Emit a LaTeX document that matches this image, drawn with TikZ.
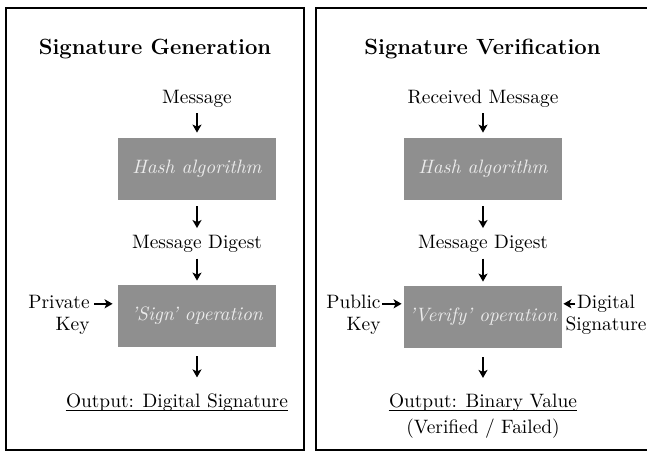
\documentclass[tikz,border=0pt]{standalone}
\usetikzlibrary{arrows.meta}

\tikzset{
  panel/.style={draw, line width=1pt},
  title/.style={anchor=base, inner sep=0pt, font=\fontsize{11}{13}\selectfont\bfseries},
  lbl/.style={inner sep=0pt, font=\fontsize{9.7}{11}\selectfont},
  opbox/.style={fill=black!44, text=white!92!black, inner sep=0pt,
                minimum width=79pt, minimum height=31pt,
                font=\fontsize{9.7}{11}\selectfont\itshape},
  flow/.style={line width=1pt, shorten <=3pt, shorten >=2.5pt,
               -{Stealth[length=4pt, width=4.5pt, inset=1pt]}},
  uline/.style={line width=0.45pt},
}

\begin{document}
\begin{tikzpicture}[x=0.5pt, y=-0.5pt]
\useasboundingbox (0,0) rectangle (647,452);

% the two frames
\draw [panel] (6.3,7.7) rectangle (304.3,450);
\draw [panel] (316.3,7.7) rectangle (651,450);

% generation side
\node (gentitle) at (155,54.5) [title] {Signature Generation};
\node (msg) at (197,103) [lbl, anchor=base] {Message};
\node (hash) at (197,169) [opbox] {Hash algorithm};
\node (dig) at (197,248.7) [lbl, anchor=base] {Message Digest};
\node (sign) at (197,316) [opbox] {'Sign' operation};
\node (privkey) at (90,314.4) [lbl, anchor=east, align=right] {Private\\Key};
\node (sigout) at (177,407.5) [lbl, anchor=base] {Output: Digital Signature};
\draw [uline] ([yshift=-1.5pt]sigout.base west) -- ([yshift=-1.5pt]sigout.base east);

\draw [flow] (msg) -- (hash);
\draw [flow, shorten >=3.5pt] (hash) -- (dig);
\draw [flow, shorten <=2.7pt, shorten >=2pt] (dig) -- (sign);
\draw [flow, shorten <=4.5pt, shorten >=8pt] (sign.south) -- (sign.south |- sigout.north);
\draw [flow, shorten <=2pt] ([yshift=5.3pt]privkey.east) -- ([yshift=5.3pt]privkey.east -| sign.west);

% verification side
\node (vertitle) at (482.5,54.5) [title] {Signature Verification};
\node (rmsg) at (483,103) [lbl, anchor=base] {Received Message};
\node (rhash) at (483,169) [opbox] {Hash algorithm};
\node (rdig) at (483,248.7) [lbl, anchor=base] {Message Digest};
\node (verify) at (483,317) [opbox] {'Verify' operation};
\node (pubkey) at (381,314.4) [lbl, anchor=east, align=right] {Public\\Key};
\node (digsig) at (606,314.4) [lbl, align=center] {Digital\\Signature};
\node (binout) at (483,407) [lbl, anchor=base] {Output: Binary Value};
\draw [uline] ([yshift=-1.5pt]binout.base west) -- ([yshift=-1.5pt]binout.base east);
\node (result) at (483,433) [lbl, anchor=base] {(Verified / Failed)};

\draw [flow] (rmsg) -- (rhash);
\draw [flow, shorten >=3.5pt] (rhash) -- (rdig);
\draw [flow, shorten <=2.7pt, shorten >=2pt] (rdig) -- (verify);
\draw [flow, shorten <=4.5pt, shorten >=7.5pt] (verify) -- (binout);
\draw [flow, shorten <=0.5pt, shorten >=1pt] ([yshift=5.3pt]pubkey.east) -- ([yshift=5.3pt]pubkey.east -| verify.west);
\draw [flow, shorten <=5pt, shorten >=0.5pt] ([yshift=5.3pt]digsig.west) -- ([yshift=5.3pt]digsig.west -| verify.east);
\end{tikzpicture}
\end{document}
